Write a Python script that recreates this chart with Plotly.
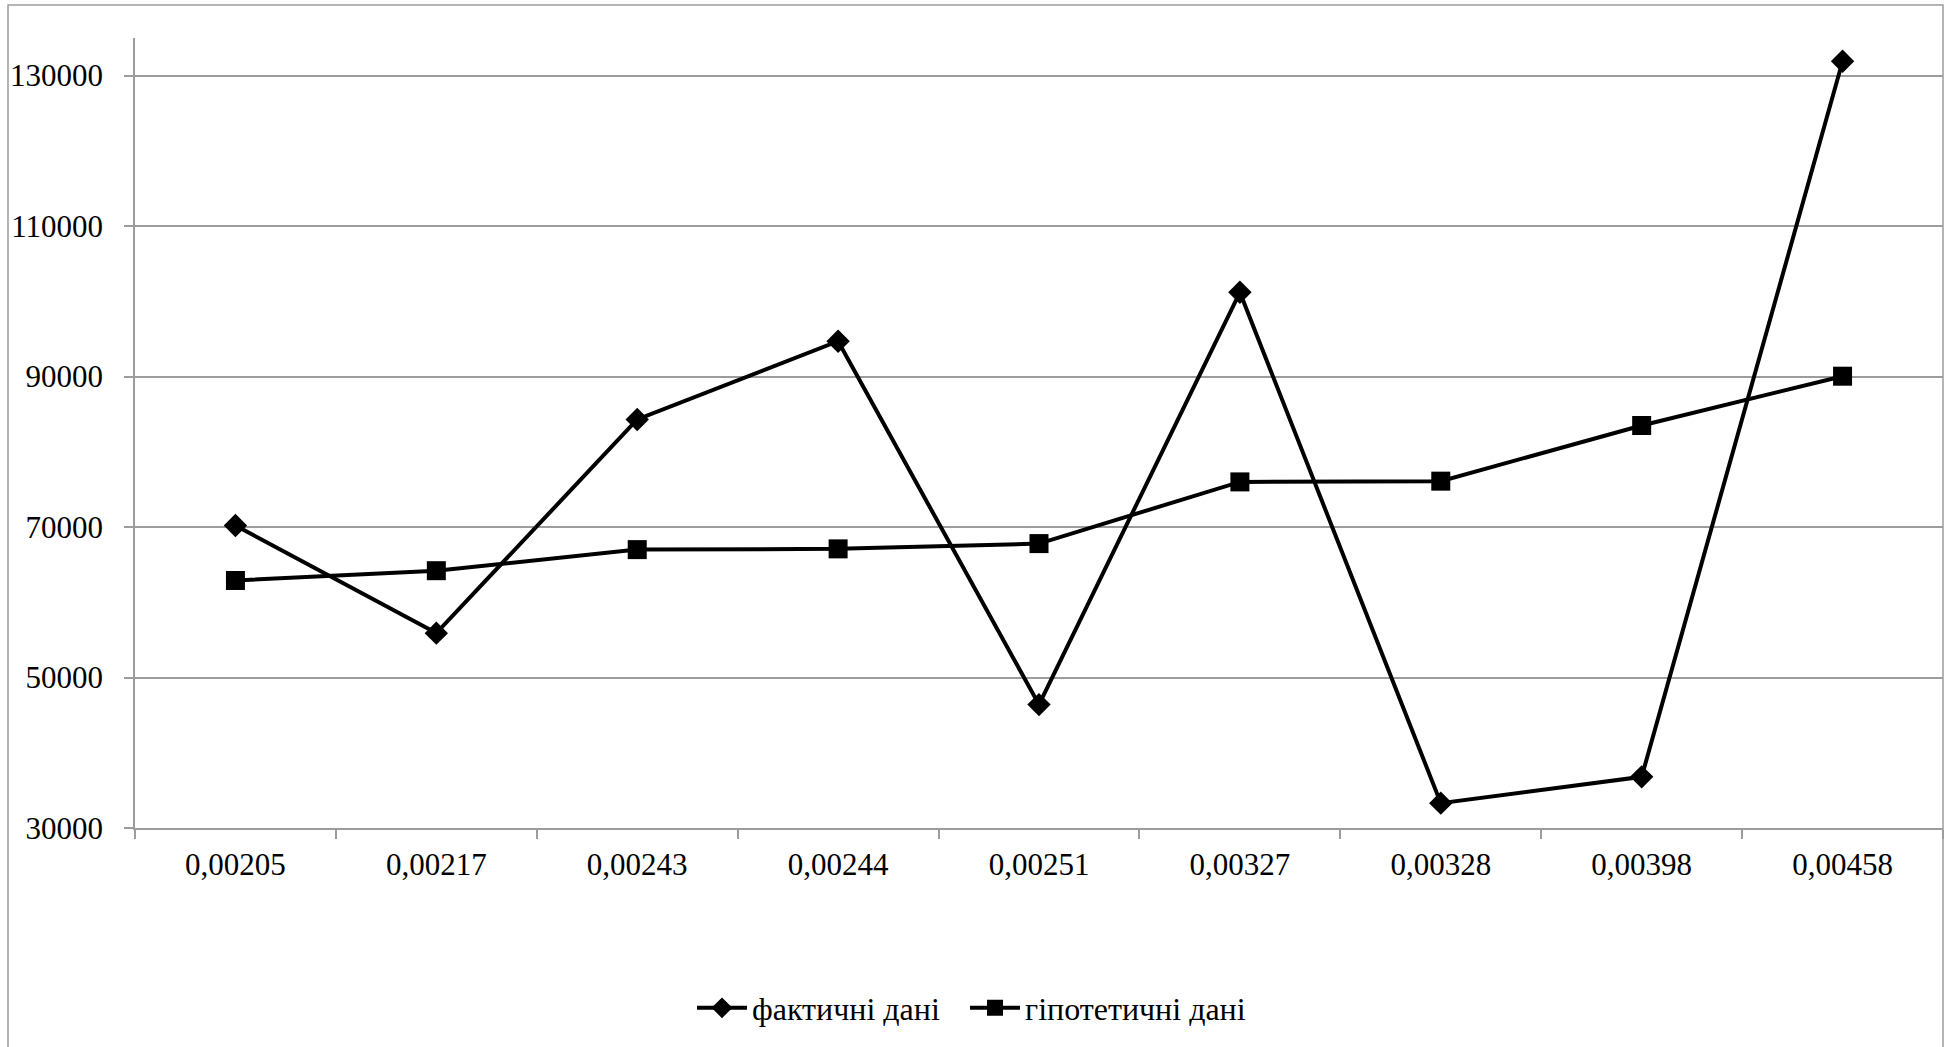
import plotly.graph_objects as go

# Категорії по осі X та значення двох рядів
categories = ["0,00205", "0,00217", "0,00243", "0,00244", "0,00251",
              "0,00327", "0,00328", "0,00398", "0,00458"]
actual = [70200, 55900, 84300, 94700, 46400, 101200, 33300, 36800, 131900]
hypothetical = [62900, 64200, 67000, 67100, 67800, 76000, 76100, 83500, 90050]
y_ticks = [30000, 50000, 70000, 90000, 110000, 130000]

FONT = "Liberation Serif, Times New Roman, serif"
GRID = "#9c9c9c"

fig = go.Figure()
fig.add_trace(go.Scatter(
    x=categories, y=actual, name="фактичні дані", mode="lines+markers",
    line=dict(color="black", width=4),
    marker=dict(symbol="diamond", size=18, color="black"),
    legend="legend",
))
fig.add_trace(go.Scatter(
    x=categories, y=hypothetical, name="гіпотетичні дані", mode="lines+markers",
    line=dict(color="black", width=4),
    marker=dict(symbol="square", size=19, color="black"),
    legend="legend2",
))

W, H = 1952, 1047
ML, MR, MT, MB = 135, 9, 38, 219
pw, ph = W - ML - MR, H - MT - MB

# Зовнішня рамка області діаграми
bx0 = (8 - ML) / pw
bx1 = 1.0
by1 = 1 + (MT - 5) / ph
by0 = (H - MB - (H + 5)) / ph
fig.add_shape(type="rect", xref="paper", yref="paper",
              x0=bx0, x1=bx1, y0=by0, y1=by1,
              line=dict(color=GRID, width=1.5), layer="below")

legend_style = dict(
    orientation="h", xref="container", yref="container",
    xanchor="left", y=1 - 1008 / H, yanchor="middle",
    font=dict(family=FONT, size=32, color="black"),
    itemwidth=50, bgcolor="rgba(0,0,0,0)",
)

fig.update_layout(
    width=W, height=H,
    margin=dict(l=ML, r=MR, t=MT, b=MB),
    paper_bgcolor="white", plot_bgcolor="white",
    font=dict(family=FONT, size=31, color="black"),
    showlegend=True,
    legend=dict(x=692 / W, **legend_style),
    legend2=dict(x=965 / W, **legend_style),
    xaxis=dict(
        type="category", categoryorder="array", categoryarray=categories,
        showgrid=False, showline=True, linecolor=GRID, linewidth=1.5,
        ticks="outside", ticklen=9, tickcolor=GRID, tickwidth=1.5,
        tickson="boundaries", range=[-0.5, len(categories) - 0.5],
        ticklabelstandoff=8,
        tickfont=dict(family=FONT, size=31, color="black"),
        zeroline=False, fixedrange=True,
    ),
    yaxis=dict(
        range=[30000, 135000], tickvals=y_ticks, tickformat="d",
        showgrid=True, gridcolor=GRID, gridwidth=1.5,
        showline=True, linecolor=GRID, linewidth=1.5,
        ticks="outside", ticklen=9, tickcolor=GRID, tickwidth=1.5,
        ticklabelstandoff=15,
        tickfont=dict(family=FONT, size=31, color="black"),
        zeroline=False, fixedrange=True,
    ),
)

fig.write_html("out.html")
